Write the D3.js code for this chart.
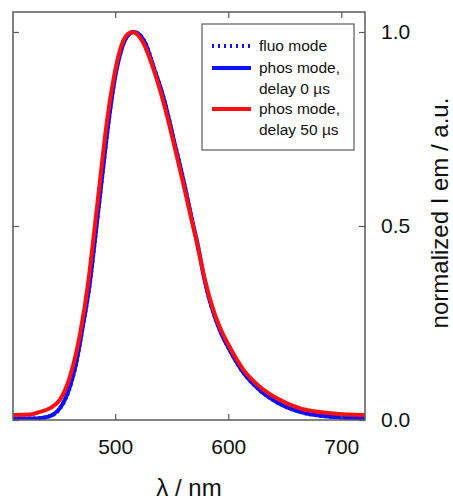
<!DOCTYPE html>
<html>
<head>
<meta charset="utf-8">
<script src="https://cdn.jsdelivr.net/npm/d3@7"></script>
<style>
    body { margin: 0; background: #fff; }
    text { font-family: "Liberation Sans", Arial, sans-serif; fill: #111; }
</style>
</head>
<body>
<div id="chart"></div>
<script>
// wavelength / nm, normalized intensity
var wl_red = [410, 425, 433.5, 442, 451, 460, 469, 476, 482, 486.5, 492.5, 498.4, 504.3, 510.2, 515.5, 525, 533.8, 542.6, 551.5, 560.3, 566.2, 572, 579.5, 588.4, 594, 600.2, 613.4, 628.2, 643, 663.6, 693, 721];
var red_vals = [0.013, 0.014, 0.021, 0.030, 0.052, 0.112, 0.223, 0.352, 0.500, 0.615, 0.765, 0.876, 0.954, 0.992, 1.0, 0.971, 0.905, 0.820, 0.717, 0.608, 0.533, 0.460, 0.360, 0.270, 0.230, 0.194, 0.130, 0.085, 0.056, 0.030, 0.017, 0.013];

var wl_blue = [410, 430, 440, 446, 451, 460, 465, 471, 477.5, 483.5, 488, 494, 499.5, 505.5, 511, 516.5, 526, 534.5, 543.5, 552, 561, 566.5, 572.5, 579.5, 588.4, 594, 600.2, 613.4, 628.2, 643, 663.6, 693, 721];
var blue_vals = [0.004, 0.004, 0.008, 0.016, 0.030, 0.086, 0.140, 0.235, 0.352, 0.500, 0.615, 0.765, 0.876, 0.954, 0.990, 1.0, 0.975, 0.905, 0.823, 0.720, 0.610, 0.535, 0.458, 0.355, 0.263, 0.222, 0.186, 0.122, 0.076, 0.046, 0.021, 0.008, 0.005];
var fluo_vals = [0.003, 0.004, 0.008, 0.015, 0.029, 0.085, 0.139, 0.234, 0.351, 0.500, 0.615, 0.765, 0.877, 0.955, 0.990, 1.0, 0.976, 0.906, 0.824, 0.721, 0.611, 0.536, 0.459, 0.355, 0.263, 0.222, 0.186, 0.122, 0.076, 0.046, 0.021, 0.008, 0.005];

var x_ticks = [500, 600, 700];
var y_ticks = [0.0, 0.5, 1.0];

var legend_labels = [["fluo mode"], ["phos mode,", "delay 0 \u00b5s"], ["phos mode,", "delay 50 \u00b5s"]];

var W = 453, H = 504;
var left = 13, right = 365, top_ = 12, bottom = 420;
var frame_color = "#5a5a5a";

var svg = d3.select("#chart").append("svg")
    .attr("width", W).attr("height", H);

var x = d3.scaleLinear().domain([409.6, 721]).range([left, right]);
var y = d3.scaleLinear().domain([0, 1.0515]).range([bottom, top_]);

//Clip for curves
svg.append("clipPath").attr("id", "clip")
    .append("rect").attr("x", left).attr("y", top_)
    .attr("width", right - left).attr("height", bottom - top_);

function toPts(wl, vals) {
    return wl.map(function (d, i) { return [d, vals[i]]; });
}

var line = d3.line()
    .x(function (d) { return x(d[0]); })
    .y(function (d) { return y(d[1]); })
    .curve(d3.curveMonotoneX);

var curves = svg.append("g").attr("clip-path", "url(#clip)");

curves.append("path").attr("d", line(toPts(wl_blue, fluo_vals)))
    .attr("fill", "none").attr("stroke", "#1010ff").attr("stroke-width", 4)
    .attr("stroke-dasharray", "2,3");
curves.append("path").attr("d", line(toPts(wl_blue, blue_vals)))
    .attr("fill", "none").attr("stroke", "#1010ff").attr("stroke-width", 4);
curves.append("path").attr("d", line(toPts(wl_red, red_vals)))
    .attr("fill", "none").attr("stroke", "#ff1010").attr("stroke-width", 4);

//Axes (ticks inside)
var tk = 6;
svg.append("g").attr("transform", "translate(0," + bottom + ")")
    .call(d3.axisBottom(x).tickValues(x_ticks).tickSize(-tk).tickPadding(tk + 13).tickFormat(d3.format("d")))
    .call(function (g) {
        g.select(".domain").remove();
        g.selectAll("line").attr("stroke", frame_color).attr("stroke-width", 1.2);
        g.selectAll("text").attr("font-size", 21).attr("fill", "#111")
            .attr("font-family", "Liberation Sans, Arial, sans-serif");
    });
svg.append("g").attr("transform", "translate(0," + top_ + ")")
    .call(d3.axisTop(x).tickValues(x_ticks).tickSize(-tk).tickFormat(""))
    .call(function (g) {
        g.select(".domain").remove();
        g.selectAll("line").attr("stroke", frame_color).attr("stroke-width", 1.2);
    });
svg.append("g").attr("transform", "translate(" + right + ",0)")
    .call(d3.axisRight(y).tickValues(y_ticks).tickSize(-tk).tickPadding(tk + 10).tickFormat(d3.format(".1f")))
    .call(function (g) {
        g.select(".domain").remove();
        g.selectAll("line").attr("stroke", frame_color).attr("stroke-width", 1.2);
        g.selectAll("text").attr("font-size", 21).attr("fill", "#111")
            .attr("font-family", "Liberation Sans, Arial, sans-serif");
    });
svg.append("g").attr("transform", "translate(" + left + ",0)")
    .call(d3.axisLeft(y).tickValues(y_ticks).tickSize(-tk).tickFormat(""))
    .call(function (g) {
        g.select(".domain").remove();
        g.selectAll("line").attr("stroke", frame_color).attr("stroke-width", 1.2);
    });

//Frame
svg.append("rect").attr("x", left).attr("y", top_)
    .attr("width", right - left).attr("height", bottom - top_)
    .attr("fill", "none").attr("stroke", frame_color).attr("stroke-width", 1.5);

//Axis titles
svg.append("text").attr("x", (left + right) / 2).attr("y", 496)
    .attr("text-anchor", "middle").attr("font-size", 24)
    .text("\u03bb / nm");
svg.append("text")
    .attr("transform", "translate(448,213) rotate(-90)")
    .attr("text-anchor", "middle").attr("font-size", 24)
    .text("normalized I em / a.u.");

//Legend
var lg = svg.append("g");
lg.append("rect").attr("x", 202).attr("y", 24).attr("width", 152).attr("height", 126)
    .attr("fill", "#fff").attr("stroke", frame_color).attr("stroke-width", 1.2);

var legend_rows = [
    { y: 46, color: "#1010ff", dash: "2,4" },
    { y: 68, color: "#1010ff", dash: null },
    { y: 109, color: "#ff1010", dash: null }
];
legend_rows.forEach(function (r, i) {
    var l = lg.append("line").attr("x1", 212).attr("x2", 251).attr("y1", r.y).attr("y2", r.y)
        .attr("stroke", r.color).attr("stroke-width", 4);
    if (r.dash) l.attr("stroke-dasharray", r.dash);
    legend_labels[i].forEach(function (t, j) {
        lg.append("text").attr("x", 259).attr("y", r.y + 5 + j * 20.5)
            .attr("font-size", 15.5).attr("fill", "#222").text(t);
    });
});
</script>
</body>
</html>
